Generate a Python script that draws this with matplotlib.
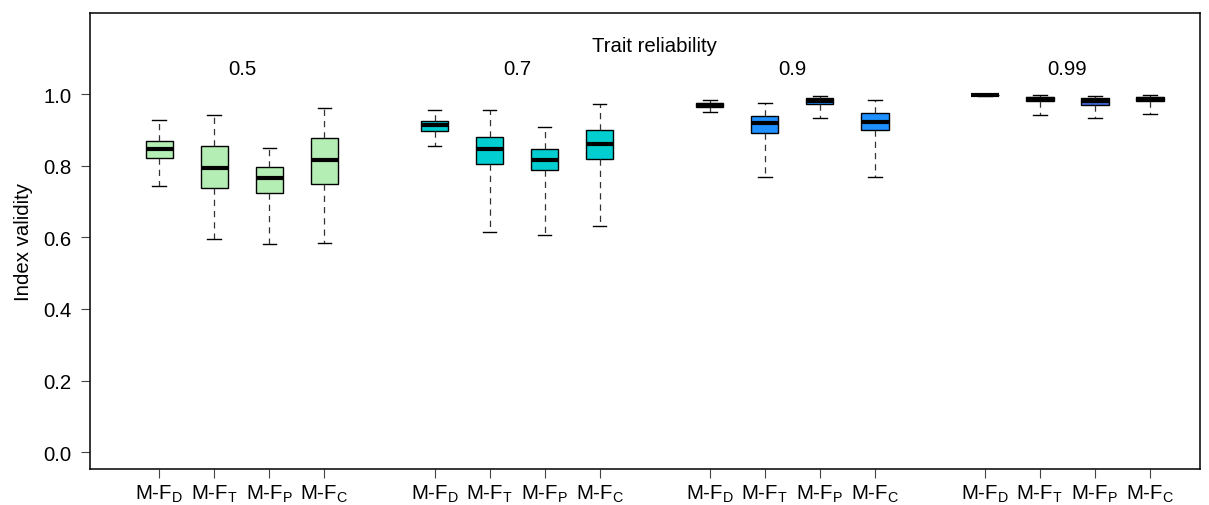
import matplotlib
matplotlib.use("Agg")
import matplotlib.pyplot as plt

plt.rcParams['font.family'] = ['Liberation Sans', 'DejaVu Sans']
plt.rcParams['mathtext.fontset'] = 'custom'
plt.rcParams['mathtext.rm'] = 'Liberation Sans'
plt.rcParams['mathtext.it'] = 'Liberation Sans:italic'

reliability = ["0.5", "0.7", "0.9", "0.99"]
methods = [r"M-F$_\mathrm{D}$", r"M-F$_\mathrm{T}$", r"M-F$_\mathrm{P}$", r"M-F$_\mathrm{C}$"]
colors = ["#B4EEB4", "#00CED1", "#1E90FF", "#4169E1"]

# per reliability group, per method
whislo = [[0.744, 0.596, 0.581, 0.585],
          [0.856, 0.614, 0.608, 0.631],
          [0.951, 0.768, 0.934, 0.770],
          [0.996, 0.943, 0.934, 0.944]]
q1 = [[0.822, 0.737, 0.724, 0.748],
      [0.898, 0.804, 0.788, 0.818],
      [0.964, 0.891, 0.972, 0.899],
      [0.997, 0.980, 0.971, 0.980]]
med = [[0.848, 0.795, 0.766, 0.816],
       [0.914, 0.848, 0.816, 0.860],
       [0.970, 0.920, 0.982, 0.923],
       [0.998, 0.986, 0.982, 0.986]]
q3 = [[0.870, 0.855, 0.796, 0.877],
      [0.926, 0.881, 0.847, 0.901],
      [0.977, 0.940, 0.989, 0.949],
      [0.999, 0.993, 0.989, 0.993]]
whishi = [[0.929, 0.942, 0.850, 0.963],
          [0.956, 0.956, 0.908, 0.972],
          [0.983, 0.976, 0.996, 0.985],
          [0.999, 0.998, 0.996, 0.999]]

fig = plt.figure(figsize=(12.09, 5.06), dpi=100)
ax = fig.add_axes([90/1209, 1-470/506, (1200-90)/1209, (470-14)/506])

positions = []
labels = []
stats = []
facecols = []
for g in range(4):
    for m in range(4):
        positions.append(1 + 5*g + m)
        labels.append(methods[m])
        facecols.append(colors[g])
        stats.append(dict(whislo=whislo[g][m], q1=q1[g][m], med=med[g][m],
                          q3=q3[g][m], whishi=whishi[g][m], fliers=[]))

bp = ax.bxp(stats, positions=positions, widths=0.5, patch_artist=True,
            showfliers=False,
            boxprops=dict(linewidth=1.0, edgecolor='black'),
            medianprops=dict(color='black', linewidth=3.0, solid_capstyle='butt'),
            whiskerprops=dict(color='#333333', linewidth=0.9, linestyle=(0, (5, 4))),
            capprops=dict(color='black', linewidth=1.0),
            capwidths=0.25)
for patch, c in zip(bp['boxes'], facecols):
    patch.set_facecolor(c)

fs = 14.7
ax.set_xlim(-0.26, 19.91)
ax.set_ylim(-0.0472, 1.2272)
ax.set_xticks(positions)
ax.set_xticklabels(labels, fontsize=fs)
ax.set_yticks([0.0, 0.2, 0.4, 0.6, 0.8, 1.0])
ax.set_yticklabels(["0.0", "0.2", "0.4", "0.6", "0.8", "1.0"], fontsize=fs)
ax.tick_params(axis='both', direction='out', length=6.5, width=0.8, color='#444444')
ax.tick_params(axis='y', pad=7)
ax.tick_params(axis='x', pad=3.5)
for s in ax.spines.values():
    s.set_linewidth(1.1)

ax.set_ylabel("Index validity", fontsize=fs, labelpad=7)

for g in range(4):
    ax.text(2.5 + 5*g, 1.072, reliability[g], ha='center', va='center', fontsize=fs)
ax.text(10, 1.136, "Trait reliability", ha='center', va='center', fontsize=fs)

fig.savefig("out.png", dpi=100)
